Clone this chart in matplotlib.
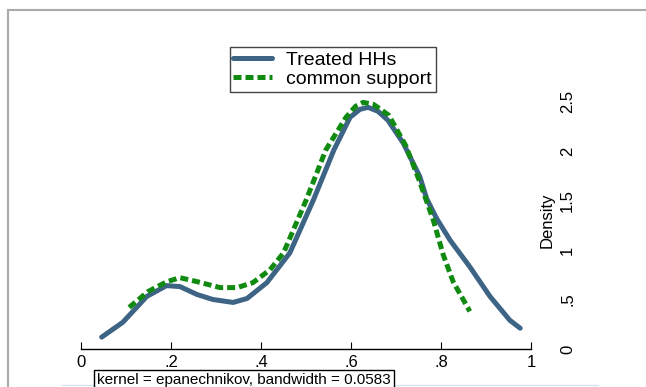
import matplotlib.pyplot as plt
from matplotlib.lines import Line2D

plt.rcParams['font.family'] = ['Liberation Sans', 'DejaVu Sans']

# kernel density of propensity score
treated_x = [0.046, 0.093, 0.146, 0.19, 0.22, 0.258, 0.293, 0.338, 0.369, 0.413,
             0.464, 0.516, 0.562, 0.598, 0.62, 0.638, 0.66, 0.682, 0.716, 0.753,
             0.768, 0.79, 0.82, 0.864, 0.909, 0.953, 0.976]
treated_y = [0.12, 0.27, 0.53, 0.64, 0.63, 0.55, 0.50, 0.47, 0.51, 0.67,
             0.97, 1.50, 2.01, 2.34, 2.42, 2.44, 2.40, 2.31, 2.08, 1.74,
             1.52, 1.32, 1.10, 0.83, 0.53, 0.29, 0.21]

common_x = [0.107, 0.149, 0.191, 0.22, 0.258, 0.309, 0.347, 0.382, 0.42, 0.45,
            0.5, 0.544, 0.589, 0.61, 0.627, 0.65, 0.684, 0.722, 0.751, 0.783,
            0.805, 0.827, 0.864]
common_y = [0.42, 0.58, 0.68, 0.72, 0.68, 0.62, 0.62, 0.67, 0.80, 0.97,
            1.50, 2.01, 2.34, 2.45, 2.49, 2.47, 2.36, 2.05, 1.71, 1.30,
            0.95, 0.68, 0.38]

xticks = [0, 0.2, 0.4, 0.6, 0.8, 1]
xticklabels = ['0', '.2', '.4', '.6', '.8', '1']
yticks = [0, 0.5, 1, 1.5, 2, 2.5]
yticklabels = ['0', '.5', '1', '1.5', '2', '2.5']

W, H = 646, 387
fig = plt.figure(figsize=(W / 100, H / 100), dpi=100)
ax = fig.add_axes([81 / W, 38 / H, 450 / W, 309 / H])

ax.plot(treated_x, treated_y, color='#3e6485', lw=3.6, solid_capstyle='round',
        label='Treated HHs')
ax.plot(common_x, common_y, color='#108a10', lw=3.6, dashes=(1.6, 0.8),
        label='common support')

ax.set_xlim(0, 1)
ax.set_ylim(0, 3.12)
for s in ['top', 'left', 'right']:
    ax.spines[s].set_visible(False)
ax.spines['bottom'].set_linewidth(1)

ax.set_xticks(xticks)
ax.set_xticklabels(xticklabels, fontsize=12)
ax.tick_params(axis='x', direction='in', length=5, pad=4)

# y axis: labels on the right, rotated, no axis line
ax.yaxis.tick_right()
ax.set_yticks(yticks)
ax.set_yticklabels(yticklabels, fontsize=12, rotation=90, va='center')
ax.tick_params(axis='y', length=0, pad=21)
ax.text(1.036, 0.417, 'Density', transform=ax.transAxes, rotation=90,
        ha='center', va='center', fontsize=12)

leg = ax.legend(loc='upper center', bbox_to_anchor=(0.559, 0.977), fontsize=14,
                fancybox=False, edgecolor='#444444', framealpha=1,
                handlelength=2.0, borderaxespad=0, borderpad=0.2,
                labelspacing=0.1, handletextpad=0.7)
leg.get_frame().set_linewidth(1)

fig.text(97 / W, 1 - 380 / H, 'kernel = epanechnikov, bandwidth = 0.0583',
         fontsize=11, va='center', ha='left',
         bbox=dict(boxstyle='square,pad=0.2', fc='white', ec='black', lw=1))

# frame lines of the screenshot
fig.add_artist(Line2D([62 / W, 598 / W], [1 - 385 / H] * 2, color='#d3e4f2', lw=1))
fig.add_artist(Line2D([8 / W, 1], [1 - 10 / H] * 2, color='#aaaaaa', lw=1.5))
fig.add_artist(Line2D([8 / W, 8 / W], [0, 1 - 10 / H], color='#aaaaaa', lw=1.5))

fig.savefig('out.png', dpi=100)
